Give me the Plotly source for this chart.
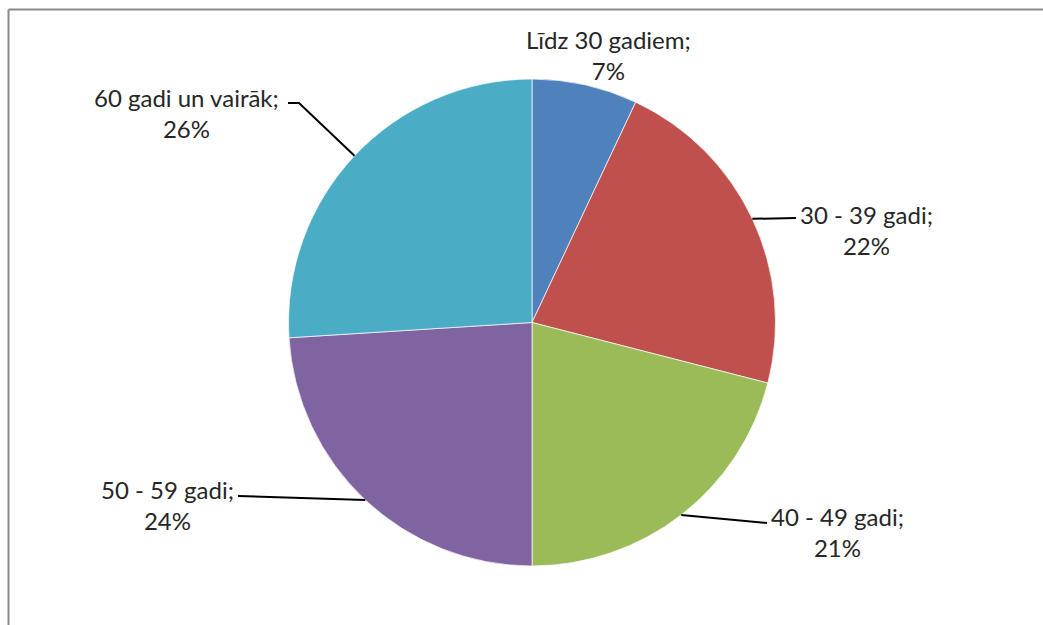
import math
import plotly.graph_objects as go

# ---- data ----
categories = ["Līdz 30 gadiem", "30 - 39 gadi", "40 - 49 gadi", "50 - 59 gadi", "60 gadi un vairāk"]
shares = [7, 22, 21, 24, 26]
colors = ["#4F81BD", "#C0504D", "#9BBB59", "#8064A2", "#4BACC6"]

# ---- layout constants (pixels) ----
W, H = 1043, 625
CX, CY, R = 532, 322.5, 243.5          # pie centre / radius in px
FONT = "Lato"
FSIZE = 24
TXT = "#262626"

# label block centres (px) and leader line end/elbow points (px, None = no leader)
label_pos = [(608, 55), (866, 230), (837, 532), (167, 505), (186, 113)]
leader_pts = [
    None,
    [(796, 218)],
    [(767, 523)],
    [(238, 496)],
    [(299, 103), (288, 103)],
]


def px(x):
    return x / W


def py(y):
    return 1 - y / H


fig = go.Figure(
    go.Pie(
        labels=categories,
        values=shares,
        sort=False,
        direction="clockwise",
        rotation=0,
        marker=dict(colors=colors, line=dict(color="rgba(255,255,255,0.7)", width=1)),
        textinfo="none",
        hoverinfo="label+percent",
        showlegend=False,
        domain=dict(x=[px(CX - R), px(CX + R)], y=[py(CY + R), py(CY - R)]),
    )
)

total = sum(shares)
cum = 0
shapes = []
annotations = []
for i, (cat, v) in enumerate(zip(categories, shares)):
    mid = (cum + v / 2) / total * 2 * math.pi
    cum += v
    ex = CX + R * math.sin(mid)
    ey = CY - R * math.cos(mid)
    pct = round(v / total * 100)
    lx, ly = label_pos[i]
    annotations.append(
        dict(
            x=px(lx), y=py(ly), xref="paper", yref="paper",
            text=f"{cat};<br>{pct}%", showarrow=False,
            xanchor="center", yanchor="middle", align="center",
            font=dict(family=FONT, size=FSIZE, color=TXT),
        )
    )
    if leader_pts[i]:
        pts = [(ex, ey)] + leader_pts[i]
        path = "M " + " L ".join(f"{px(x):.5f},{py(y):.5f}" for x, y in pts)
        shapes.append(
            dict(type="path", xref="paper", yref="paper", path=path,
                 line=dict(color="#000000", width=2))
        )

# chart frame (left and top edges visible)
shapes.append(dict(type="line", xref="paper", yref="paper",
                   x0=px(8.5), x1=px(W + 5), y0=py(9.5), y1=py(9.5),
                   line=dict(color="#8a8a8a", width=2)))
shapes.append(dict(type="line", xref="paper", yref="paper",
                   x0=px(8.5), x1=px(8.5), y0=py(9.5), y1=py(H + 5),
                   line=dict(color="#8a8a8a", width=2)))

fig.update_layout(
    width=W, height=H,
    margin=dict(l=0, r=0, t=0, b=0),
    paper_bgcolor="white", plot_bgcolor="white",
    shapes=shapes, annotations=annotations,
)

fig.write_html(
    "out.html",
    config={"displayModeBar": False},
    post_script="document.body.style.margin='0';document.body.style.overflow='hidden';",
)
